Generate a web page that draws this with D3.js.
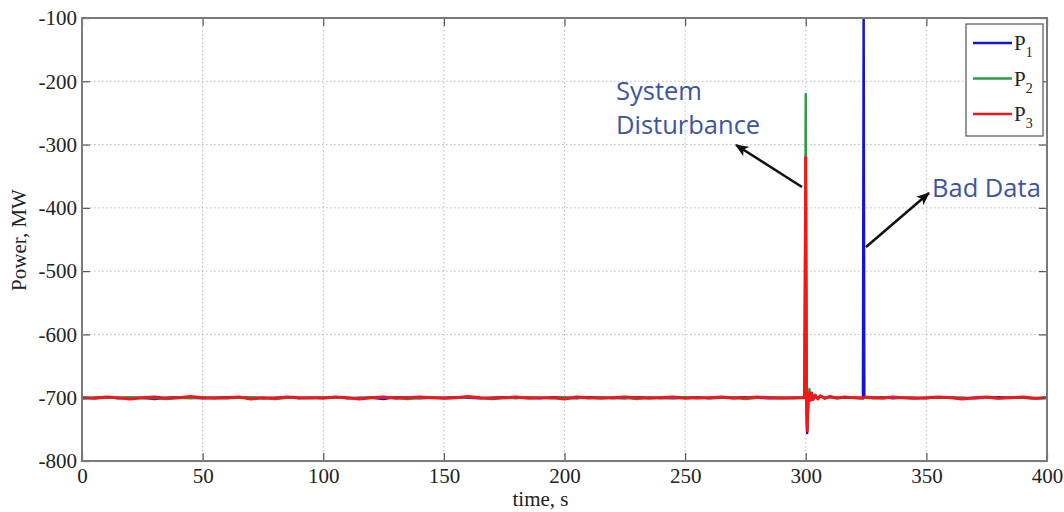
<!DOCTYPE html>
<html>
<head>
<meta charset="utf-8">
<script src="https://cdn.jsdelivr.net/npm/d3@7"></script>
<style>
  body { margin: 0; background: #fff; }
  svg { display: block; }
</style>
</head>
<body>
<script>
// time stamps (s), finer around the disturbance and bad data
var t = [0,5,10,15,20,25,30,35,40,45,50,55,60,65,70,75,80,85,90,95,
  100,105,110,115,120,125,130,135,140,145,150,155,160,165,170,175,180,185,190,195,
  200,205,210,215,220,225,230,235,240,245,250,255,260,265,270,275,280,285,290,295,
  299.5,300,300.3,300.6,301,301.5,302,302.5,303,304,305,306,308,310,313,316,320,323.7,324,324.3,
  328,332,336,340,345,350,355,360,365,370,375,380,385,390,395,400];

// power (MW)
var p1 = [-701,-700,-699,-701,-700,-700,-702,-700,-699,-700,-701,-700,-699,-700,-700,-701,-700,-699,-701,-700,
  -700,-699,-701,-700,-700,-702,-699,-700,-701,-700,-700,-699,-700,-701,-700,-699,-700,-700,-701,-699,
  -700,-701,-699,-700,-700,-701,-699,-700,-700,-701,-700,-699,-701,-700,-700,-699,-700,-701,-700,-700,
  -700,-470,-700,-756,-706,-693,-703,-694,-702,-697,-701,-698,-700,-699,-700,-700,-700,-700,-60,-700,
  -700,-699,-701,-700,-700,-701,-699,-700,-700,-701,-700,-699,-700,-700,-701,-700];
var p2 = [-699,-701,-700,-700,-699,-701,-700,-702,-700,-701,-699,-700,-701,-700,-699,-700,-702,-700,-700,-701,
  -699,-700,-700,-701,-699,-700,-700,-702,-700,-699,-701,-700,-699,-700,-702,-700,-701,-699,-700,-701,
  -699,-700,-701,-699,-701,-700,-702,-699,-701,-700,-699,-701,-700,-700,-699,-702,-700,-699,-700,-701,
  -700,-220,-700,-745,-704,-686,-702,-692,-703,-696,-702,-697,-701,-698,-700,-699,-700,-701,-700,-700,
  -701,-700,-699,-700,-701,-700,-700,-699,-701,-700,-700,-701,-699,-700,-701,-700];
var p3 = [-700,-701,-699,-700,-702,-700,-699,-701,-700,-698,-700,-701,-700,-699,-702,-700,-701,-699,-700,-700,
  -701,-699,-700,-702,-700,-699,-701,-700,-699,-700,-701,-700,-698,-700,-701,-700,-699,-701,-700,-700,
  -702,-699,-700,-701,-700,-699,-700,-701,-700,-699,-701,-700,-700,-699,-701,-700,-699,-700,-701,-700,
  -700,-320,-700,-752,-705,-692,-704,-693,-703,-696,-702,-697,-701,-698,-701,-699,-700,-701,-700,-699,
  -700,-701,-699,-700,-701,-700,-699,-700,-702,-700,-699,-701,-700,-699,-701,-700];

var xTicks = [0,50,100,150,200,250,300,350,400];
var yTicks = [-800,-700,-600,-500,-400,-300,-200,-100];
var yTickLabels = ["-800","-700","-600","-500","-400","-300","-200","-100"];

var seriesNames = ["1","2","3"];
var seriesColors = ["#1414d2","#2e9a42","#f01818"];

var W = 1064, H = 512;
var mLeft = 82, mRight = 1047, mTop = 18, mBottom = 461;

var svg = d3.select("body").append("svg")
    .attr("width", W)
    .attr("height", H);

var x = d3.scaleLinear().domain([0, 400]).range([mLeft, mRight]);
var y = d3.scaleLinear().domain([-800, -100]).range([mBottom, mTop]);

// grid
var grid = svg.append("g").attr("class", "grid");
grid.selectAll("line.vx")
    .data(xTicks.slice(1, -1))
    .enter().append("line")
    .attr("x1", function(d) { return x(d); })
    .attr("x2", function(d) { return x(d); })
    .attr("y1", mTop).attr("y2", mBottom)
    .attr("stroke", "#b8b8b8")
    .attr("stroke-width", 1)
    .attr("stroke-dasharray", "1.5,2.5");
grid.selectAll("line.hy")
    .data(yTicks.slice(1, -1))
    .enter().append("line")
    .attr("y1", function(d) { return y(d); })
    .attr("y2", function(d) { return y(d); })
    .attr("x1", mLeft).attr("x2", mRight)
    .attr("stroke", "#b8b8b8")
    .attr("stroke-width", 1)
    .attr("stroke-dasharray", "1.5,2.5");

// data lines
svg.append("clipPath").attr("id", "clip")
  .append("rect")
    .attr("x", mLeft).attr("y", mTop)
    .attr("width", mRight - mLeft).attr("height", mBottom - mTop);

var line = d3.line()
    .x(function(d) { return x(d[0]); })
    .y(function(d) { return y(d[1]); });

var series = [p1, p2, p3];
svg.append("g").attr("clip-path", "url(#clip)")
  .selectAll("path")
    .data(series)
    .enter().append("path")
    .attr("d", function(s) { return line(t.map(function(tt, i) { return [tt, s[i]]; })); })
    .attr("fill", "none")
    .attr("stroke", function(d, i) { return seriesColors[i]; })
    .attr("stroke-width", function(d, i) { return i == 2 ? 3 : 2.4; })
    .attr("stroke-linejoin", "round");

// axes (ticks inward, on all four sides)
var tickFont = "'Liberation Serif', 'Times New Roman', serif";

var xAxis = svg.append("g")
    .attr("transform", "translate(0," + mBottom + ")")
    .call(d3.axisBottom(x).tickValues(xTicks).tickSize(-8).tickPadding(7).tickFormat(d3.format("d")));
var xAxisTop = svg.append("g")
    .attr("transform", "translate(0," + mTop + ")")
    .call(d3.axisTop(x).tickValues(xTicks).tickSize(-8).tickFormat(""));
var yAxis = svg.append("g")
    .attr("transform", "translate(" + mLeft + ",0)")
    .call(d3.axisLeft(y).tickValues(yTicks).tickSize(-8).tickPadding(5)
      .tickFormat(function(d, i) { return yTickLabels[i]; }));
var yAxisRight = svg.append("g")
    .attr("transform", "translate(" + mRight + ",0)")
    .call(d3.axisRight(y).tickValues(yTicks).tickSize(-8).tickFormat(""));

[xAxis, xAxisTop, yAxis, yAxisRight].forEach(function(a) {
  a.select(".domain").remove();
  a.selectAll(".tick line").attr("stroke", "#555").attr("stroke-width", 1.2);
  a.selectAll("text")
    .attr("fill", "#222")
    .style("font-family", tickFont)
    .style("font-size", "21px");
});

// plot frame
svg.append("rect")
    .attr("x", mLeft).attr("y", mTop)
    .attr("width", mRight - mLeft).attr("height", mBottom - mTop)
    .attr("fill", "none")
    .attr("stroke", "#7a7a7a")
    .attr("stroke-width", 2);

// axis titles
svg.append("text")
    .attr("x", (mLeft + mRight) / 2 - 24)
    .attr("y", 506)
    .attr("text-anchor", "middle")
    .style("font-family", tickFont)
    .style("font-size", "21px")
    .attr("fill", "#222")
    .text("time, s");

svg.append("text")
    .attr("transform", "translate(26,240) rotate(-90)")
    .attr("text-anchor", "middle")
    .style("font-family", tickFont)
    .style("font-size", "21px")
    .attr("fill", "#222")
    .text("Power, MW");

// legend
var legend = svg.append("g");
legend.append("rect")
    .attr("x", 966).attr("y", 24)
    .attr("width", 77).attr("height", 112)
    .attr("fill", "#fff")
    .attr("stroke", "#555")
    .attr("stroke-width", 1.2);
var items = legend.selectAll("g.item")
    .data(seriesNames)
    .enter().append("g")
    .attr("transform", function(d, i) { return "translate(0," + (43 + i * 35.5) + ")"; });
items.append("line")
    .attr("x1", 973).attr("x2", 1012)
    .attr("stroke", function(d, i) { return seriesColors[i]; })
    .attr("stroke-width", 2.4);
var lt = items.append("text")
    .attr("x", 1014).attr("y", 7)
    .style("font-family", tickFont)
    .style("font-size", "21px")
    .attr("fill", "#222");
lt.append("tspan").text("P");
lt.append("tspan").attr("dy", 7).style("font-size", "14px").text(function(d) { return d; });

// annotations
svg.append("defs").append("marker")
    .attr("id", "arrow")
    .attr("viewBox", "0 0 12 10")
    .attr("refX", 11).attr("refY", 5)
    .attr("markerWidth", 14).attr("markerHeight", 11)
    .attr("markerUnits", "userSpaceOnUse")
    .attr("orient", "auto")
  .append("path")
    .attr("d", "M0,0 L12,5 L0,10 L3,5 Z")
    .attr("fill", "#111");

svg.append("line")
    .attr("x1", 802).attr("y1", 187)
    .attr("x2", 736).attr("y2", 145)
    .attr("stroke", "#111").attr("stroke-width", 2.5)
    .attr("marker-end", "url(#arrow)");
svg.append("line")
    .attr("x1", 866).attr("y1", 247)
    .attr("x2", 929).attr("y2", 193)
    .attr("stroke", "#111").attr("stroke-width", 2.5)
    .attr("marker-end", "url(#arrow)");

var noteFont = "'Open Sans', 'DejaVu Sans', sans-serif";
var noteColor = "#3d55a0";
var note1 = svg.append("text")
    .attr("x", 616).attr("y", 100)
    .style("font-family", noteFont)
    .style("font-size", "25.5px")
    .attr("fill", noteColor);
note1.append("tspan").attr("x", 616).text("System");
note1.append("tspan").attr("x", 616).attr("dy", 34).text("Disturbance");

svg.append("text")
    .attr("x", 932).attr("y", 197)
    .style("font-family", noteFont)
    .style("font-size", "25.5px")
    .attr("fill", noteColor)
    .text("Bad Data");
</script>
</body>
</html>
